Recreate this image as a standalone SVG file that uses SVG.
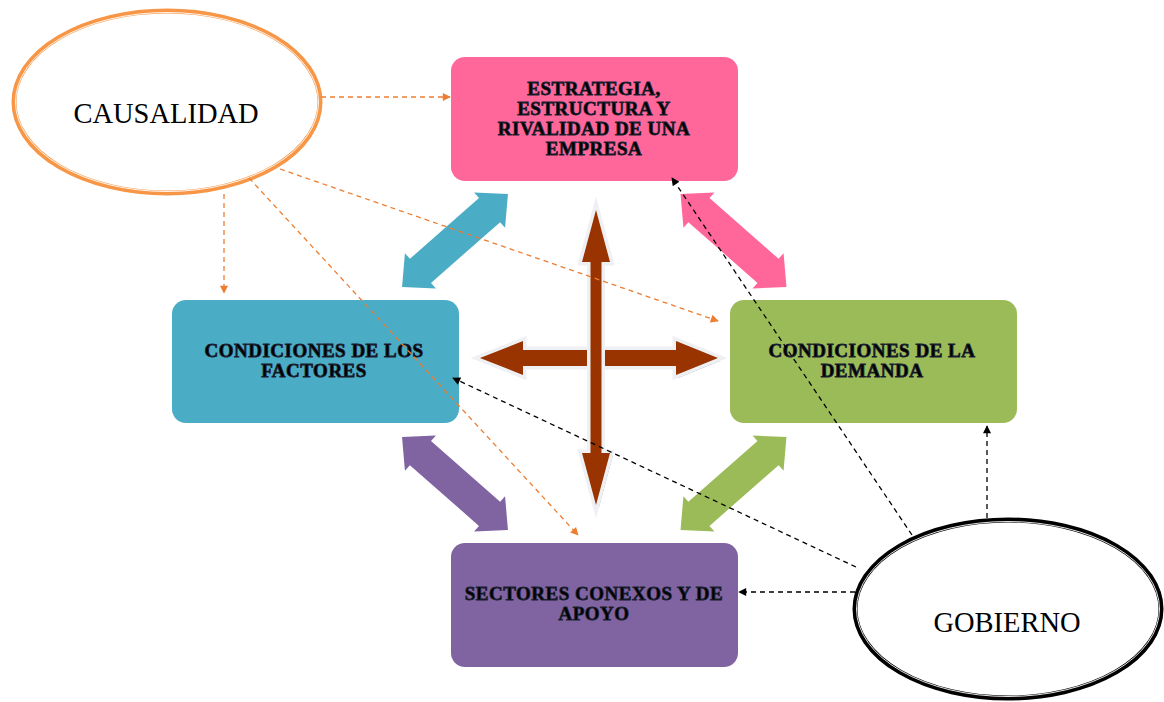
<svg xmlns="http://www.w3.org/2000/svg" width="1164" height="702" viewBox="0 0 1164 702">
<style>
.box{stroke:none}
.lbl{font-family:"Liberation Serif",serif;font-weight:bold;font-size:19px;letter-spacing:0.5px;fill:#000;text-anchor:middle;stroke:#1a2030;stroke-width:0.8}
.ell{font-family:"Liberation Serif",serif;font-size:28.5px;fill:#000;text-anchor:middle}
.od{fill:none;stroke:#ED7D31;stroke-width:1.3;stroke-dasharray:5 4}
.bd{fill:none;stroke:#000;stroke-width:1.3;stroke-dasharray:5 4}
.cross{fill:#993300;stroke:#EEF0F3;stroke-width:7;paint-order:stroke fill;stroke-linejoin:miter}
.shadow{fill:#8A9BB2}
</style>
<defs>
<marker id="ao" viewBox="0 0 10 10" refX="9" refY="5" markerWidth="9" markerHeight="8" markerUnits="userSpaceOnUse" orient="auto"><path d="M0 0L10 5L0 10Z" fill="#ED7D31"/></marker>
<marker id="ab" viewBox="0 0 10 10" refX="9" refY="5" markerWidth="9" markerHeight="8" markerUnits="userSpaceOnUse" orient="auto"><path d="M0 0L10 5L0 10Z" fill="#000"/></marker>
<path id="dbl" d="M-70.5 0L-46 -23.5L-46 -16L46 -16L46 -23.5L70.5 0L46 23.5L46 16L-46 16L-46 23.5Z"/>
</defs>
<rect width="1164" height="702" fill="#fff"/>

<g id="block-arrows">
<use href="#dbl" fill="#4BACC6" transform="translate(455 240.5) rotate(-41.3)"/>
<use href="#dbl" fill="#FF6699" transform="translate(733.5 240.5) rotate(41.3)"/>
<use href="#dbl" fill="#8064A2" transform="translate(455 483.5) rotate(41.3)"/>
<use href="#dbl" fill="#9BBB59" transform="translate(733.5 483.5) rotate(-41.3)"/>
</g>

<g id="cross">
<path class="shadow" transform="translate(2 3)" d="M480 358L523 341L523 350L676 350L676 341L718 358L676 375L676 366L523 366L523 375Z"/>
<path class="cross" d="M480 358L523 341L523 350L676 350L676 341L718 358L676 375L676 366L523 366L523 375Z"/>
<path class="shadow" transform="translate(3 2)" d="M596 210L610 262L601.5 262L601.5 453L610 453L596 505L582 453L590.5 453L590.5 262L582 262Z"/>
<path class="cross" d="M596 210L610 262L601.5 262L601.5 453L610 453L596 505L582 453L590.5 453L590.5 262L582 262Z"/>
</g>

<g id="n-estrategia">
<rect class="box" x="451" y="57" width="287" height="124" rx="14" fill="#FF6699"/>
<text class="lbl" x="594" y="95">ESTRATEGIA,</text>
<text class="lbl" x="594" y="115">ESTRUCTURA Y</text>
<text class="lbl" x="594" y="135">RIVALIDAD DE UNA</text>
<text class="lbl" x="594" y="155">EMPRESA</text>
</g>

<g id="n-factores">
<rect class="box" x="172" y="300" width="287" height="123" rx="14" fill="#4BACC6"/>
<text class="lbl" x="314" y="357">CONDICIONES DE LOS</text>
<text class="lbl" x="314" y="377">FACTORES</text>
</g>

<g id="n-demanda">
<rect class="box" x="730" y="300" width="287" height="123" rx="14" fill="#9BBB59"/>
<text class="lbl" x="872" y="357">CONDICIONES DE LA</text>
<text class="lbl" x="872" y="377">DEMANDA</text>
</g>

<g id="n-sectores">
<rect class="box" x="451" y="543" width="287" height="124" rx="14" fill="#8064A2"/>
<text class="lbl" x="594" y="600">SECTORES CONEXOS Y DE</text>
<text class="lbl" x="594" y="620">APOYO</text>
</g>

<g id="n-causalidad">
<ellipse cx="167" cy="102" rx="153" ry="91" fill="#fff" stroke="#F79646" stroke-width="5"/>
<ellipse cx="167" cy="102" rx="151.5" ry="89.5" fill="none" stroke="#fff" stroke-width="0.9"/>
<text class="ell" x="166" y="123">CAUSALIDAD</text>
</g>

<g id="n-gobierno">
<ellipse cx="1008" cy="609" rx="153" ry="89" fill="#fff" stroke="#000" stroke-width="5"/>
<ellipse cx="1008" cy="609" rx="151.5" ry="87.5" fill="none" stroke="#fff" stroke-width="0.9"/>
<text class="ell" x="1007" y="632">GOBIERNO</text>
</g>

<g id="connectors">
<line class="od" x1="321" y1="97" x2="450" y2="97" marker-end="url(#ao)"/>
<line class="od" x1="280" y1="169" x2="718" y2="321" marker-end="url(#ao)"/>
<line class="od" x1="224" y1="194" x2="224" y2="293" marker-end="url(#ao)"/>
<line class="od" x1="249" y1="178" x2="578" y2="535" marker-end="url(#ao)"/>
<line class="bd" x1="987" y1="518" x2="987" y2="426" marker-end="url(#ab)"/>
<line class="bd" x1="855" y1="592" x2="739" y2="592" marker-end="url(#ab)"/>
<line class="bd" x1="856" y1="567" x2="453" y2="378" marker-end="url(#ab)"/>
<line class="bd" x1="912" y1="535" x2="672" y2="178" marker-end="url(#ab)"/>
</g>
</svg>
